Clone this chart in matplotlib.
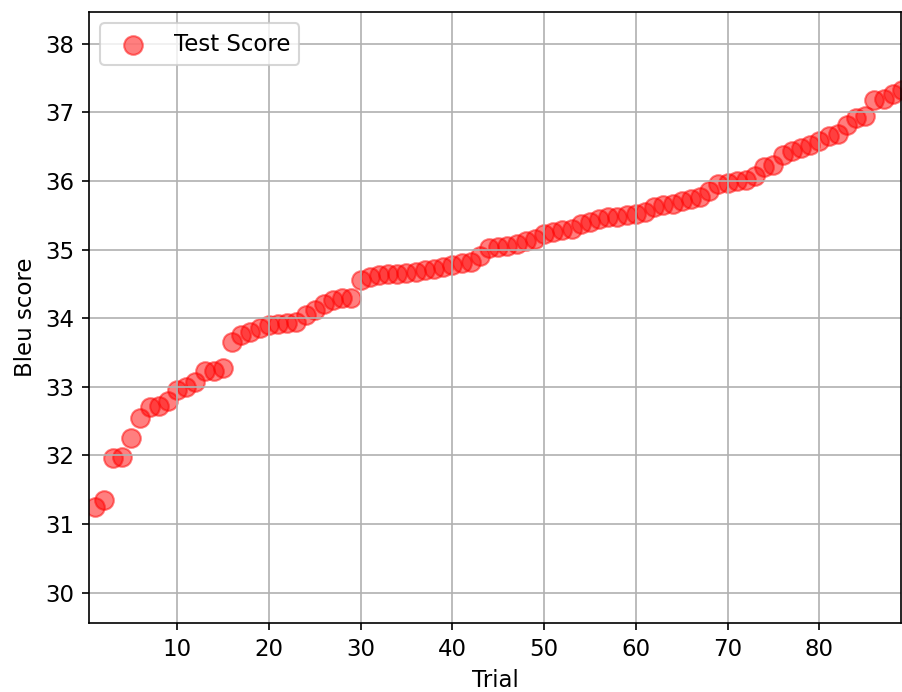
import matplotlib
matplotlib.use("Agg")
import matplotlib.pyplot as plt

# Test score per trial, sorted ascending
trials = list(range(1, 90))
scores = [
    31.25, 31.35, 31.97, 31.98, 32.25, 32.55, 32.70, 32.72, 32.80, 32.95,
    33.00, 33.07, 33.23, 33.23, 33.27, 33.65, 33.75, 33.80, 33.85, 33.90,
    33.92, 33.93, 33.95, 34.05, 34.12, 34.20, 34.27, 34.30, 34.30, 34.55,
    34.60, 34.63, 34.65, 34.65, 34.66, 34.68, 34.70, 34.72, 34.75, 34.78,
    34.80, 34.82, 34.90, 35.02, 35.03, 35.05, 35.08, 35.12, 35.15, 35.22,
    35.26, 35.28, 35.30, 35.37, 35.40, 35.44, 35.47, 35.48, 35.50, 35.52,
    35.55, 35.62, 35.65, 35.67, 35.70, 35.73, 35.77, 35.85, 35.95, 35.97,
    36.00, 36.02, 36.07, 36.20, 36.23, 36.38, 36.43, 36.48, 36.52, 36.58,
    36.65, 36.68, 36.82, 36.92, 36.95, 37.18, 37.20, 37.27, 37.32,
]

plt.rcParams["font.size"] = 11

fig = plt.figure(figsize=(902 / 150, 692 / 150), dpi=150)
ax = fig.add_axes([89 / 902, 69 / 692, 812 / 902, 611 / 692])

ax.scatter(trials, scores, s=80, color="red", alpha=0.5, label="Test Score")
ax.set_xlim(0.4, 88.9)
ax.set_ylim(29.56, 38.46)
ax.set_xticks([10, 20, 30, 40, 50, 60, 70, 80])
ax.set_yticks(range(30, 39))
ax.grid(True)
ax.set_xlabel("Trial")
ax.set_ylabel("Bleu score")
ax.legend(loc="upper left")

fig.savefig("out.png", dpi=150)
